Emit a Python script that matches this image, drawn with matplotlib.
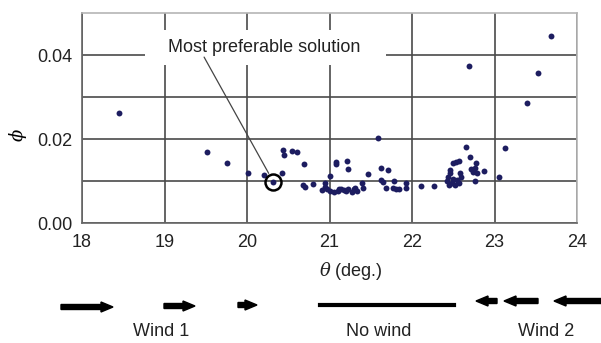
import matplotlib
matplotlib.use("Agg")
import matplotlib.pyplot as plt
from matplotlib.patches import FancyArrow, Rectangle
from matplotlib.lines import Line2D

plt.rcParams['font.family'] = ['Liberation Sans', 'DejaVu Sans']
plt.rcParams['mathtext.fontset'] = 'dejavuserif'

# ---- data ----
theta = [18.45, 19.52, 19.76, 20.01, 20.20, 20.32, 20.43, 20.44, 20.45, 20.54,
         20.61, 20.69, 20.68, 20.70, 20.80, 20.91, 20.94, 20.95, 20.97, 21.01,
         21.01, 21.05, 21.08, 21.08, 21.10, 21.12, 21.14, 21.17, 21.20, 21.21,
         21.23, 21.23, 21.27, 21.30, 21.33, 21.31, 21.40, 21.41, 21.47, 21.59,
         21.62, 21.62, 21.65, 21.69, 21.71, 21.78, 21.77, 21.81, 21.84, 21.93,
         21.93, 22.11, 22.27, 22.42, 22.44, 22.45, 22.46, 22.46, 22.48, 22.50,
         22.50, 22.52, 22.53, 22.54, 22.57, 22.57, 22.58, 22.59, 22.66, 22.69,
         22.70, 22.72, 22.74, 22.76, 22.76, 22.78, 22.79, 22.87, 23.05, 23.13,
         23.40, 23.53, 23.69]
phi = [0.0263, 0.0169, 0.0142, 0.0120, 0.0115, 0.0098, 0.0120, 0.0175, 0.0162, 0.0172,
       0.0168, 0.0140, 0.0090, 0.0085, 0.0093, 0.0079, 0.0095, 0.0086, 0.0080, 0.0112,
       0.0077, 0.0075, 0.0145, 0.0140, 0.0077, 0.0082, 0.0080, 0.0078, 0.0077, 0.0147,
       0.0129, 0.0080, 0.0075, 0.0080, 0.0077, 0.0084, 0.0095, 0.0083, 0.0117, 0.0202,
       0.0132, 0.0102, 0.0097, 0.0083, 0.0126, 0.0101, 0.0083, 0.0082, 0.0080, 0.0095,
       0.0083, 0.0088, 0.0088, 0.0101, 0.0110, 0.0090, 0.0120, 0.0126, 0.0095, 0.0104,
       0.0142, 0.0090, 0.0146, 0.0102, 0.0148, 0.0096, 0.0120, 0.0110, 0.0182, 0.0375,
       0.0156, 0.0128, 0.0122, 0.0130, 0.0099, 0.0144, 0.0120, 0.0125, 0.0110, 0.0179,
       0.0286, 0.0356, 0.0445]
best_theta, best_phi = 20.32, 0.0098
x_ticks = [18, 19, 20, 21, 22, 23, 24]
y_ticks = [0.00, 0.01, 0.02, 0.03, 0.04]
y_ticklabels = ['0.00', '', '0.02', '', '0.04']
wind_labels = ['Wind 1', 'No wind', 'Wind 2']

W, H = 601, 343
fig = plt.figure(figsize=(W / 100, H / 100), dpi=100)
ax = fig.add_axes([82 / W, 1 - 223 / H, 495 / W, 210 / H])

ax.set_xlim(18, 24)
ax.set_ylim(0, 0.05)
ax.set_xticks(x_ticks)
ax.set_xticklabels([str(t) for t in x_ticks])
ax.set_yticks(y_ticks)
ax.set_yticklabels(y_ticklabels)
ax.tick_params(length=0, labelsize=13, colors='#222222')
ax.tick_params(axis='x', pad=8)
ax.tick_params(axis='y', pad=7)

ax.set_axisbelow(True)
ax.grid(True, color='#4a4a4a', lw=1.2, zorder=0)
for s in ['left', 'bottom']:
    ax.spines[s].set_color('#666666')
    ax.spines[s].set_linewidth(1.2)
for s in ['top', 'right']:
    ax.spines[s].set_color('#b5b5b5')
    ax.spines[s].set_linewidth(1.2)

# white box behind annotation text
ax.add_patch(Rectangle((0.127, 0.752), 0.487, 0.167, transform=ax.transAxes,
                       facecolor='white', edgecolor='none', zorder=1))

ax.scatter(theta, phi, s=18, color='#1d1d60', zorder=3, linewidths=0)
ax.plot([best_theta], [best_phi], 'o', ms=11.5, mfc='none', mec='black', mew=1.8, zorder=4)

ax.annotate('', xy=(best_theta, best_phi), xytext=(19.48, 0.0395),
            arrowprops=dict(arrowstyle='-', color='#444444', lw=0.9, shrinkA=0, shrinkB=7),
            zorder=2)
ax.text(20.21, 0.0419, 'Most preferable solution', fontsize=13, ha='center', va='center',
        color='#222222', zorder=2)

ax.set_ylabel(r'$\phi$', fontsize=13, rotation=90)
ax.yaxis.set_label_coords((18 - 82) / 495, (223 - 135) / 210)
ax.yaxis.label.set_va('center')
ax.set_xlabel(r'$\theta$ (deg.)', fontsize=13, color='#222222')
ax.xaxis.set_label_coords((351 - 82) / 495, (223 - 271) / 210)
ax.xaxis.label.set_va('center')

# wind arrows (pixel coordinates, origin top-left)
def px(x, y):
    return x / 100, (H - y) / 100

tr = fig.dpi_scale_trans
arrows = [(61, 113, 307), (164, 195, 306), (238, 257, 305),
          (497, 476, 301), (538, 504, 301), (603, 554, 301)]
for x0, x1, y in arrows:
    sx, sy = px(x0, y)
    ex, _ = px(x1, y)
    fig.add_artist(FancyArrow(sx, sy, ex - sx, 0, width=0.05, head_width=0.10,
                              head_length=0.12, length_includes_head=True,
                              color='black', transform=tr))
lx0, ly = px(320, 305)
lx1, _ = px(454, 305)
fig.add_artist(Line2D([lx0, lx1], [ly, ly], color='black', lw=3, transform=tr))

for lbl, xc in zip(wind_labels, [161, 379, 546]):
    fig.text(xc / W, 1 - 332 / H, lbl, fontsize=13, ha='center', va='center', color='#222222')

fig.savefig('out.png', dpi=100)
